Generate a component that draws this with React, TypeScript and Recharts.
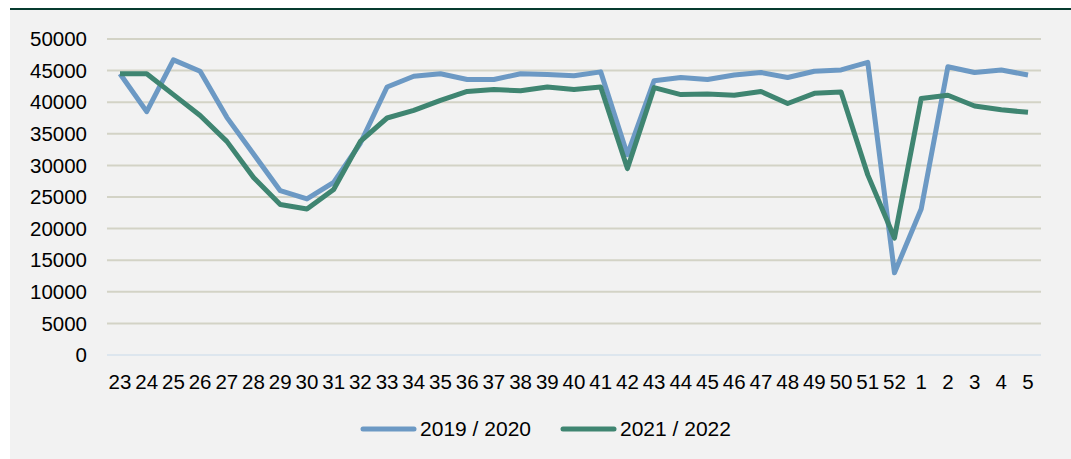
import { CartesianGrid, Legend, Line, LineChart, XAxis, YAxis } from 'recharts'

const weeks = [
  '23', '24', '25', '26', '27', '28', '29', '30', '31', '32', '33', '34', '35', '36', '37', '38', '39', '40',
  '41', '42', '43', '44', '45', '46', '47', '48', '49', '50', '51', '52', '1', '2', '3', '4', '5',
]

const season2019 = [
  44500, 38500, 46700, 44900, 37600, 31800, 26000, 24700, 27300, 33500, 42400, 44100, 44500, 43600, 43600, 44500,
  44400, 44200, 44800, 31700, 43400, 43900, 43600, 44300, 44700, 43900, 44900, 45100, 46300, 13000, 23100, 45600,
  44700, 45100, 44300,
]

const season2021 = [
  44500, 44500, 41200, 37900, 33800, 28100, 23800, 23100, 26200, 33800, 37500, 38700, 40300, 41700, 42000, 41800,
  42400, 42000, 42400, 29500, 42300, 41200, 41300, 41100, 41700, 39800, 41400, 41600, 28500, 18500, 40600, 41100,
  39400, 38800, 38400,
]

const yTicks = [0, 5000, 10000, 15000, 20000, 25000, 30000, 35000, 40000, 45000, 50000]

const data = weeks.map((week, i) => ({ week, a: season2019[i], b: season2021[i] }))

const font = "'Liberation Sans', Arial, sans-serif"
const blue = '#6c99c4'
const green = '#3f8571'

function LegendBox(props: any) {
  const items = props.payload || []
  return (
    <div
      style={{
        display: 'flex',
        justifyContent: 'center',
        alignItems: 'center',
        height: 26,
        paddingLeft: 40,
        fontFamily: font,
        fontSize: 21,
        color: '#000',
      }}
    >
      {items.map((it: any, i: number) => (
        <span key={i} style={{ display: 'flex', alignItems: 'center', marginLeft: i ? 29 : 0 }}>
          <svg width={57} height={8}>
            <line x1={3} x2={54} y1={4} y2={4} stroke={it.color} strokeWidth={5} strokeLinecap="round" />
          </svg>
          <span style={{ marginLeft: 3 }}>{it.value}</span>
        </span>
      ))}
    </div>
  )
}

export default function App() {
  return (
    <div style={{ position: 'absolute', left: 0, top: 0, width: 1071, height: 459, background: '#fff' }}>
      <div
        style={{
          position: 'absolute',
          left: 10,
          top: 8,
          width: 1061,
          height: 449,
          borderTop: '2px solid #073b2f',
          background: '#f2f2f2',
        }}
      >
        <LineChart width={1061} height={449} data={data} margin={{ top: 29, right: 30, left: 0, bottom: 17 }}>
          <CartesianGrid vertical={false} stroke="#d3d3c6" strokeWidth={2} />
          <XAxis
            dataKey="week"
            interval={0}
            padding={{ left: 13, right: 13 }}
            tickLine={false}
            tickSize={0}
            tickMargin={19}
            height={61}
            axisLine={{ stroke: '#dde6ee', strokeWidth: 2 }}
            tick={{ fill: '#000', fontSize: 20.5, fontFamily: font }}
          />
          <YAxis
            domain={[0, 50000]}
            ticks={yTicks}
            width={97}
            axisLine={false}
            tickLine={false}
            tickSize={0}
            tickMargin={20}
            tick={{ fill: '#000', fontSize: 20.5, fontFamily: font }}
          />
          <Legend verticalAlign="bottom" height={26} content={<LegendBox />} />
          <Line
            type="linear"
            dataKey="a"
            name="2019 / 2020"
            stroke={blue}
            strokeWidth={5}
            strokeLinejoin="round"
            dot={false}
            isAnimationActive={false}
          />
          <Line
            type="linear"
            dataKey="b"
            name="2021 / 2022"
            stroke={green}
            strokeWidth={5}
            strokeLinejoin="round"
            dot={false}
            isAnimationActive={false}
          />
        </LineChart>
      </div>
    </div>
  )
}
